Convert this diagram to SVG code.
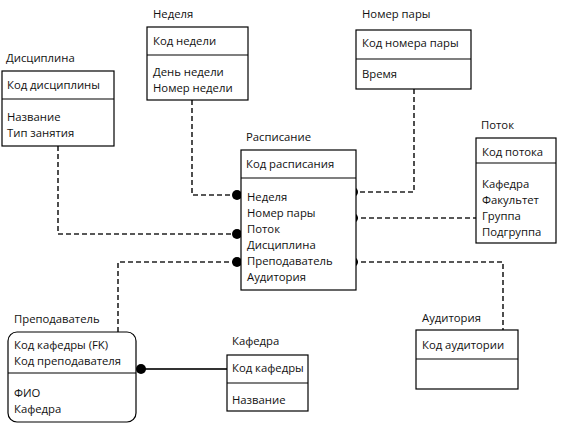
<svg xmlns="http://www.w3.org/2000/svg" width="567" height="430" viewBox="0 0 567 430">
<style>
text{font-family:"Open Sans","Liberation Sans",sans-serif;font-size:11.3px;fill:#111}
.box{fill:#fff;stroke:#000;stroke-width:1.2}
.div{stroke:#000;stroke-width:1.2}
.dash{fill:none;stroke:#222;stroke-width:1.6;stroke-dasharray:5,3}
.solid{fill:none;stroke:#333;stroke-width:1.8}
.dot{fill:#000}
</style>
<rect width="567" height="430" fill="#fff"/>
<g id="connectors">
<path class="dash" d="M192,100 V195 H237"/>
<path class="dash" d="M414,89 V192 H353"/>
<path class="dash" d="M58,146 V234 H237"/>
<path class="dash" d="M353,218 H476"/>
<path class="dash" d="M237,262 H118 V332"/>
<path class="dash" d="M353,262 H503 V330"/>
<path class="solid" d="M141,369 H227"/>
<circle class="dot" cx="237" cy="195" r="5"/>
<circle class="dot" cx="353" cy="192" r="5"/>
<circle class="dot" cx="237" cy="234" r="5"/>
<circle class="dot" cx="353" cy="218" r="5"/>
<circle class="dot" cx="237" cy="262" r="5"/>
<circle class="dot" cx="353" cy="262" r="5"/>
<circle class="dot" cx="141" cy="369" r="5"/>
</g>
<g id="discipline">
<text x="6" y="62">Дисциплина</text>
<rect class="box" x="2" y="71" width="112" height="75"/>
<line class="div" x1="2" y1="99" x2="114" y2="99"/>
<text x="7" y="89">Код дисциплины</text>
<text x="7" y="121">Название</text>
<text x="7" y="137">Тип занятия</text>
</g>
<g id="week">
<text x="153" y="18">Неделя</text>
<rect class="box" x="147" y="27" width="101" height="73"/>
<line class="div" x1="147" y1="55" x2="248" y2="55"/>
<text x="153" y="45">Код недели</text>
<text x="153" y="76">День недели</text>
<text x="153" y="92">Номер недели</text>
</g>
<g id="pair">
<text x="362" y="18">Номер пары</text>
<rect class="box" x="356" y="30" width="115" height="59"/>
<line class="div" x1="356" y1="59" x2="471" y2="59"/>
<text x="362" y="47">Код номера пары</text>
<text x="362" y="78">Время</text>
</g>
<g id="schedule">
<text x="246" y="141">Расписание</text>
<rect class="box" x="241" y="150" width="115" height="140"/>
<line class="div" x1="241" y1="178" x2="356" y2="178"/>
<text x="246" y="168">Код расписания</text>
<text x="247" y="201">Неделя</text>
<text x="247" y="217">Номер пары</text>
<text x="247" y="233">Поток</text>
<text x="247" y="249">Дисциплина</text>
<text x="247" y="265">Преподаватель</text>
<text x="247" y="281">Аудитория</text>
</g>
<g id="stream">
<text x="481" y="129">Поток</text>
<rect class="box" x="476" y="138" width="80" height="105"/>
<line class="div" x1="476" y1="163" x2="556" y2="163"/>
<text x="482" y="156">Код потока</text>
<text x="482" y="188">Кафедра</text>
<text x="482" y="204">Факультет</text>
<text x="482" y="220">Группа</text>
<text x="482" y="236">Подгруппа</text>
</g>
<g id="teacher">
<text x="14" y="323">Преподаватель</text>
<rect class="box" x="8" y="332" width="128" height="90" rx="9"/>
<line class="div" x1="8" y1="373" x2="136" y2="373"/>
<text x="14" y="349">Код кафедры (FK)</text>
<text x="14" y="365">Код преподавателя</text>
<text x="14" y="397">ФИО</text>
<text x="14" y="413">Кафедра</text>
</g>
<g id="department">
<text x="232" y="345">Кафедра</text>
<rect class="box" x="227" y="355" width="81" height="56"/>
<line class="div" x1="227" y1="383" x2="308" y2="383"/>
<text x="232" y="372">Код кафедры</text>
<text x="232" y="404">Название</text>
</g>
<g id="auditorium">
<text x="422" y="322">Аудитория</text>
<rect class="box" x="416" y="330" width="102" height="59"/>
<line class="div" x1="416" y1="359" x2="518" y2="359"/>
<text x="422" y="349">Код аудитории</text>
</g>
</svg>
